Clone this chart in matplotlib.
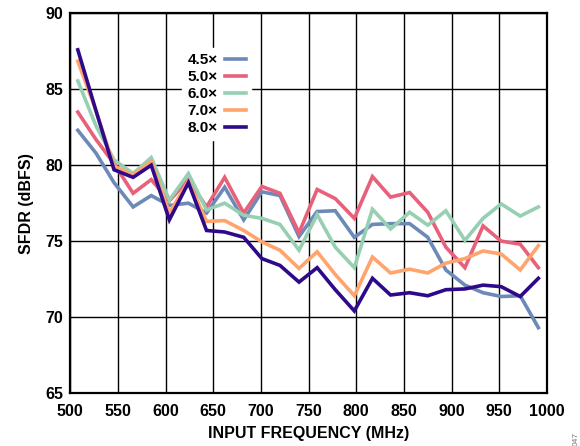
import matplotlib
matplotlib.use("Agg")
from matplotlib import pyplot as plt

plt.rcParams['font.family'] = ['Liberation Sans', 'DejaVu Sans']
plt.rcParams['font.weight'] = 'bold'

# input frequency (MHz)
freq = [508, 527, 546, 566, 585, 604, 624, 643, 662, 682, 701, 720, 740,
        759, 778, 798, 817, 836, 856, 875, 894, 914, 933, 952, 972, 991]

# SFDR (dBFS) per interpolation setting
sfdr_45 = [82.3, 80.8, 78.85, 77.25, 78.0, 77.35, 77.5, 76.85, 78.55, 76.4, 78.25, 78.0, 75.3,
           76.95, 77.0, 75.25, 76.1, 76.15, 76.15, 75.25, 73.1, 72.1, 71.6, 71.35, 71.4, 69.3]
sfdr_50 = [83.5, 81.7, 80.1, 78.15, 79.05, 77.65, 79.05, 77.25, 79.2, 76.85, 78.6, 78.15, 75.55,
           78.4, 77.8, 76.5, 79.25, 77.9, 78.2, 76.9, 74.6, 73.25, 76.0, 75.0, 74.8, 73.25]
sfdr_60 = [85.55, 82.6, 80.35, 79.45, 80.5, 77.7, 79.45, 77.05, 77.5, 76.7, 76.5, 76.1, 74.4,
           76.75, 74.6, 73.25, 77.1, 75.8, 76.9, 76.05, 77.0, 75.05, 76.5, 77.45, 76.65, 77.25]
sfdr_70 = [86.85, 83.6, 79.95, 79.35, 80.25, 76.85, 78.95, 76.3, 76.35, 75.7, 74.95, 74.4, 73.2,
           74.3, 72.8, 71.4, 73.95, 72.9, 73.15, 72.9, 73.55, 73.85, 74.35, 74.15, 73.1, 74.7]
sfdr_80 = [87.6, 83.6, 79.7, 79.2, 80.0, 76.4, 78.85, 75.7, 75.6, 75.25, 73.85, 73.4, 72.3,
           73.25, 71.8, 70.4, 72.55, 71.45, 71.6, 71.4, 71.8, 71.85, 72.1, 72.0, 71.35, 72.55]

labels = ['4.5×', '5.0×', '6.0×', '7.0×', '8.0×']
colors = ['#6D89B8', '#E8607A', '#97CFB3', '#FFA46C', '#2E0A8A']
series = [sfdr_45, sfdr_50, sfdr_60, sfdr_70, sfdr_80]

fig = plt.figure(figsize=(5.8, 4.46), dpi=100)
ax = fig.add_axes([0.121, 0.119, 0.822, 0.851])

for s, c, l in zip(series, colors, labels):
    ax.plot(freq, s, color=c, lw=2.6, label=l, solid_joinstyle='miter')

ax.set_xlim(500, 1000)
ax.set_ylim(65, 90)
ax.set_xticks(range(500, 1001, 50))
ax.set_yticks(range(65, 91, 5))
ax.grid(True, color='black', lw=1.0)
ax.set_axisbelow(True)
ax.tick_params(length=0, labelsize=11.5)
ax.tick_params(axis='x', pad=8)
ax.tick_params(axis='y', pad=5)
for sp in ax.spines.values():
    sp.set_linewidth(1.6)

ax.set_xlabel('INPUT FREQUENCY (MHz)', fontsize=11.5, fontweight='bold', labelpad=5)
ax.set_ylabel('SFDR (dBFS)', fontsize=11.5, fontweight='bold', labelpad=8)

leg = ax.legend(loc='upper left', bbox_to_anchor=(0.235, 0.91), markerfirst=False,
                frameon=True, fancybox=False, framealpha=1, edgecolor='white',
                fontsize=11, handlelength=1.4, handletextpad=0.45,
                labelspacing=0.2, borderpad=0.35, borderaxespad=0)
for t in leg.get_texts():
    t.set_fontweight('bold')

fig.text(0.993, 0.0, '047', rotation=90, fontsize=6, color='#777777',
         fontweight='normal', ha='center', va='bottom')

fig.savefig('out.png', dpi=100)
